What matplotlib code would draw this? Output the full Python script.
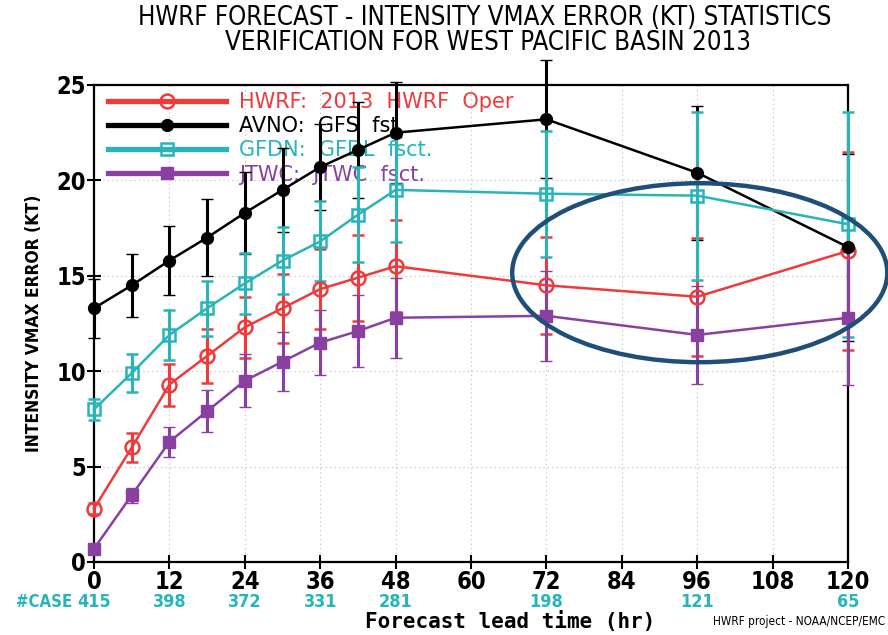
# HWRF intensity error statistics, West Pacific 2013
import matplotlib
matplotlib.use('Agg')
import matplotlib.pyplot as plt
from matplotlib.lines import Line2D
from matplotlib.patches import Ellipse
from matplotlib import font_manager

hours = [0, 6, 12, 18, 24, 30, 36, 42, 48, 72, 96, 120]

hwrf = [2.8, 6.0, 9.3, 10.8, 12.3, 13.3, 14.3, 14.9, 15.5, 14.5, 13.9, 16.3]
hwrf_err = [0.3, 0.75, 1.1, 1.4, 1.6, 1.8, 2.1, 2.25, 2.4, 2.55, 3.1, 5.2]
avno = [13.3, 14.5, 15.8, 17.0, 18.3, 19.5, 20.7, 21.6, 22.5, 23.2, 20.4, 16.5]
avno_err = [1.55, 1.65, 1.8, 2.0, 2.15, 2.2, 2.25, 2.5, 2.65, 3.1, 3.5, 4.9]
gfdn = [8.0, 9.9, 11.9, 13.3, 14.6, 15.8, 16.8, 18.2, 19.5, 19.3, 19.2, 17.7]
gfdn_err = [0.55, 1.0, 1.3, 1.45, 1.6, 1.75, 2.1, 2.5, 2.75, 3.3, 4.4, 5.9]
jtwc = [0.7, 3.5, 6.3, 7.9, 9.5, 10.5, 11.5, 12.1, 12.8, 12.9, 11.9, 12.8]
jtwc_err = [0.15, 0.4, 0.8, 1.1, 1.4, 1.55, 1.7, 1.9, 2.1, 2.35, 2.55, 3.5]

labels = ['HWRF:  2013  HWRF  Oper', 'AVNO:  GFS  fst', 'GFDN:  GFDL  fsct.', 'JTWC:  JTWC  fsct.']
colors = ['#F03A3A', 'black', '#27B5B9', '#8A40A0']

case_hours = [0, 12, 24, 36, 48, 72, 96, 120]
cases = [415, 398, 372, 331, 281, 198, 121, 65]

xticks = list(range(0, 121, 12))
yticks = [0, 5, 10, 15, 20, 25]

# condensed face if the system has one, otherwise shrink the normal face
cond = any(f.name == 'DejaVu Sans' and str(f.stretch) in ('condensed', '500')
           for f in font_manager.fontManager.ttflist)
k = 1.0 if cond else 0.9
nf = dict(fontfamily='DejaVu Sans', fontstretch='condensed')

fig = plt.figure(figsize=(8.88, 6.35), dpi=100)
ax = fig.add_axes([0.1059, 0.1150, 0.8491, 0.7512])

styles = [dict(marker='o', ms=10, mfc='none', mew=1.8),
          dict(marker='o', ms=8.5, mfc='black', mew=1),
          dict(marker='s', ms=9, mfc='none', mew=1.8),
          dict(marker='s', ms=9, mew=1)]
series = [(hwrf, hwrf_err), (avno, avno_err), (gfdn, gfdn_err), (jtwc, jtwc_err)]

for (vals, err), c, st in zip(series, colors, styles):
    eb = ax.errorbar(hours, vals, yerr=err, color=c, lw=1.8, elinewidth=2.2,
                     capsize=4.5, capthick=2, zorder=3, **st)
    # bars and markers on the frame edges are drawn whole, like the original
    for art in eb.get_children():
        art.set_clip_on(False)

handles = [Line2D([], [], color=c, lw=3.8, **st) for c, st in zip(colors, styles)]
leg = ax.legend(handles, labels, loc='upper left', bbox_to_anchor=(0.018, 0.985),
                frameon=False, fontsize=15, handlelength=5.7, handletextpad=0.6,
                labelspacing=0.2, borderpad=0, borderaxespad=0, numpoints=1,
                labelcolor='linecolor')
leg.set_zorder(1)

ax.add_patch(Ellipse((96.4, 15.16), 59.7, 9.38, fill=False, edgecolor='#1F4E79',
                     lw=3.2, clip_on=False, zorder=6))

ax.set_xlim(0, 120)
ax.set_ylim(0, 25)
ax.set_xticks(xticks)
ax.set_yticks(yticks)
ax.grid(True, color='#BBBBBB', lw=0.8, linestyle=(0, (1, 3)), zorder=0)
ax.set_axisbelow(True)
ax.tick_params(direction='inout', length=10, width=1.5, pad=1)
for lab in ax.get_xticklabels() + ax.get_yticklabels():
    lab.set_fontfamily('DejaVu Sans')
    lab.set_fontstretch('condensed')
    lab.set_fontweight('bold')
    lab.set_fontsize(17 * k)
for s in ax.spines.values():
    s.set_linewidth(1.6)

ax.set_ylabel('INTENSITY VMAX ERROR (KT)', fontweight='bold', fontsize=12.5 * k, **nf)
ax.yaxis.set_label_coords(-0.068, 0.5)

tr = ax.get_xaxis_transform()
for h, n in zip(case_hours, cases):
    ax.text(h, -0.083, str(n), transform=tr, ha='center', va='center', color='#27B5B9',
            fontweight='bold', fontsize=13 * k, clip_on=False, **nf)
ax.text(-3.4, -0.083, '#CASE', transform=tr, ha='right', va='center', color='#27B5B9',
        fontweight='bold', fontsize=12 * k, clip_on=False, **nf)

ax.text(0.552, -0.124, 'Forecast lead time (hr)', transform=ax.transAxes, ha='center',
        va='center', fontfamily='DejaVu Sans Mono', fontweight='bold', fontsize=15)
fig.text(0.9966, 0.0205, 'HWRF project - NOAA/NCEP/EMC', ha='right', va='center',
         fontsize=8.5 * k, **nf)

fig.text(0.546, 0.9717, 'HWRF FORECAST - INTENSITY VMAX ERROR (KT) STATISTICS',
         ha='center', va='center', fontsize=18.5 * k, **nf)
fig.text(0.549, 0.932, 'VERIFICATION FOR WEST PACIFIC BASIN 2013',
         ha='center', va='center', fontsize=18.5 * k, **nf)

fig.savefig('out.png', dpi=100)
